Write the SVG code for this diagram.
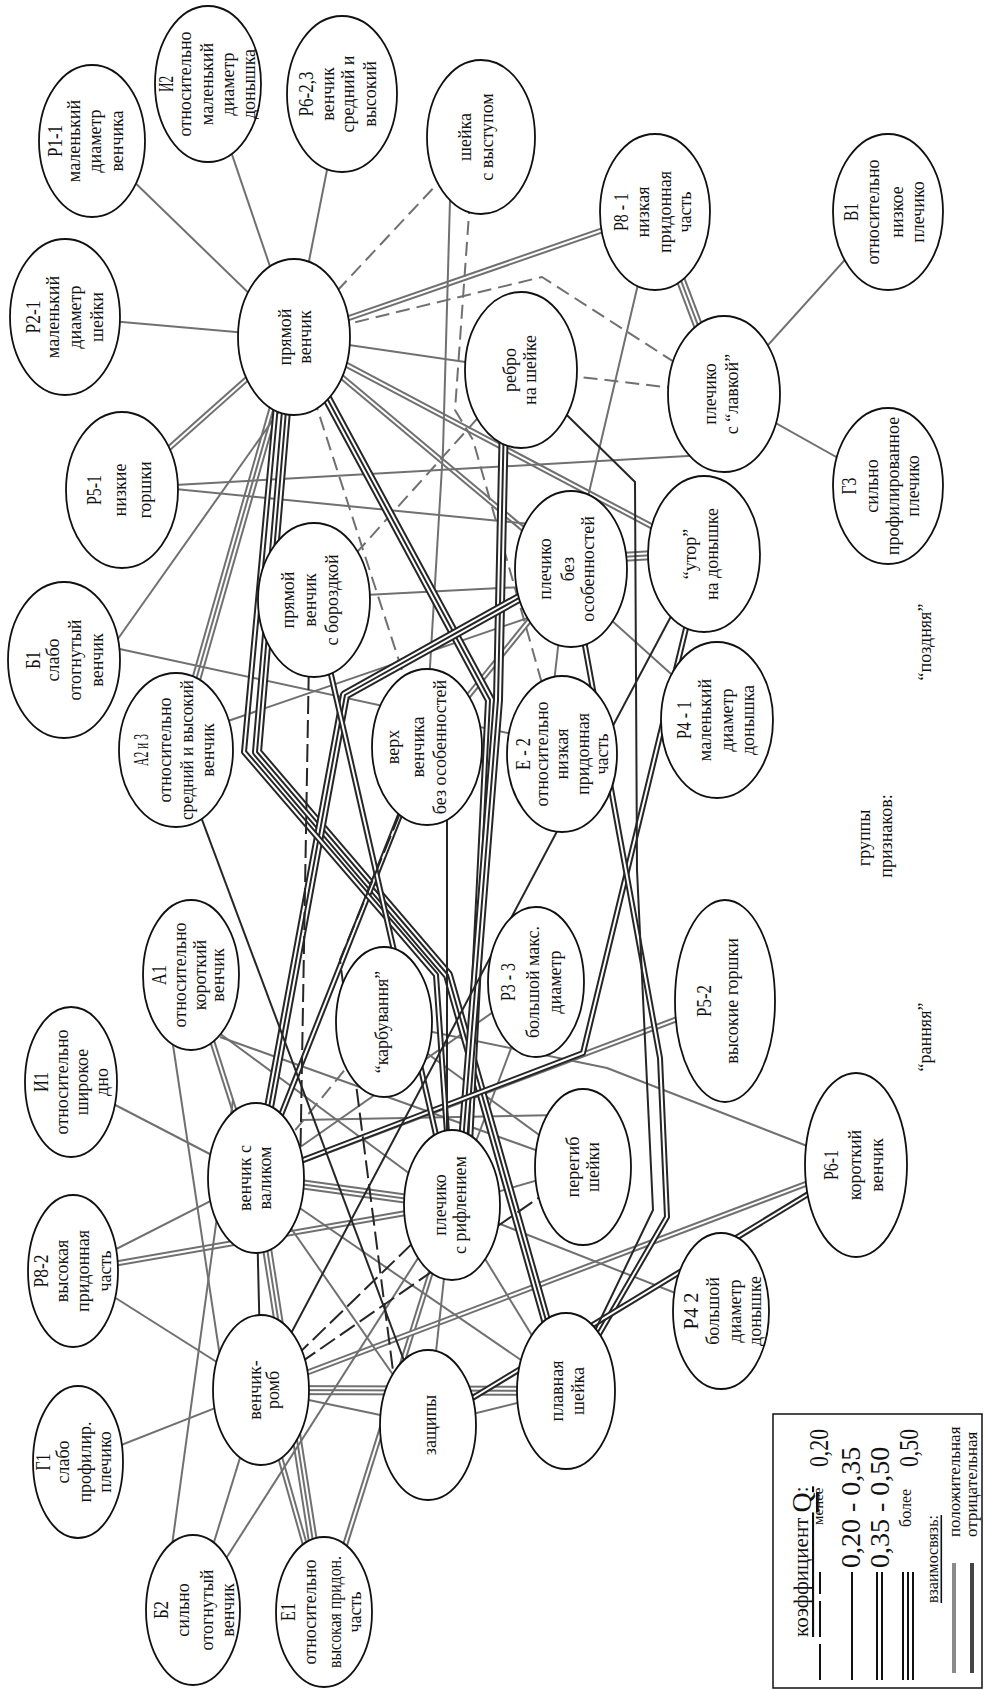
<svg xmlns="http://www.w3.org/2000/svg" xmlns:xlink="http://www.w3.org/1999/xlink" width="984" height="1690" viewBox="0 0 984 1690">
<style>
.g,.g2,.g3,.gd{fill:none;stroke:#707070;stroke-linejoin:round}
.d,.d2,.d3,.dd{fill:none;stroke:#262626;stroke-linejoin:round}
.g,.d,.gd,.dd{stroke-width:2}
.g2,.d2{stroke-width:6}
.g3,.d3{stroke-width:10}
.w2{fill:none;stroke:#fff;stroke-width:2;stroke-linejoin:round}
.w3{fill:none;stroke:#fff;stroke-width:6;stroke-linejoin:round}
.gd{stroke-dasharray:14 7}
.dd{stroke-dasharray:18 6}
.node ellipse{fill:#fff;stroke:#111;stroke-width:1.8}
.t{font-family:"Liberation Serif","Times New Roman",serif;font-size:18px;fill:#111;text-anchor:middle;dominant-baseline:central}
.h{font-size:22px}
.ls{font-family:"Liberation Serif","Times New Roman",serif;fill:#111;text-anchor:start;dominant-baseline:central}
</style>
<defs>
<path id="e1" d="M294,337 L92,141"/>
<path id="e2" d="M294,337 L208,84"/>
<path id="e3" d="M294,337 L342,94"/>
<path id="e4" d="M294,337 L65,317"/>
<path id="e5" d="M294,337 L521,370"/>
<path id="e6" d="M655,212 L571,569"/>
<path id="e7" d="M888,212 L724,394"/>
<path id="e8" d="M888,486 L724,394"/>
<path id="e9" d="M110,650 L280,410"/>
<path id="e10" d="M115,648 L540,740"/>
<path id="e11" d="M175,485 L705,455"/>
<path id="e12" d="M175,489 L560,527"/>
<path id="e13" d="M225,722 L545,612"/>
<path id="e14" d="M365,595 L560,585"/>
<path id="e15" d="M560,630 L552,700"/>
<path id="e16" d="M600,610 L700,700"/>
<path id="e17" d="M450,200 L443,450 L428,700"/>
<path id="e18" d="M71,1082 L256,1178"/>
<path id="e19" d="M173,1045 L225,1390"/>
<path id="e20" d="M233,1100 L170,1560"/>
<path id="e21" d="M220,1037 L583,1167"/>
<path id="e22" d="M215,1030 L452,1205"/>
<path id="e23" d="M384,1022 L583,1167"/>
<path id="e24" d="M536,982 L452,1205"/>
<path id="e25" d="M536,982 L256,1178"/>
<path id="e26" d="M856,1165 L607,1068 L384,1022"/>
<path id="e27" d="M721,1311 L452,1205"/>
<path id="e28" d="M583,1167 L452,1205"/>
<path id="e29" d="M300,1120 L560,1115"/>
<path id="e30" d="M73,1271 L256,1178"/>
<path id="e31" d="M73,1271 L261,1390"/>
<path id="e32" d="M78,1462 L261,1390"/>
<path id="e33" d="M261,1390 L193,1610"/>
<path id="e34" d="M261,1390 L428,1425"/>
<path id="e35" d="M428,1425 L566,1391"/>
<path id="e36" d="M428,1425 L452,1205"/>
<path id="e37" d="M256,1178 L428,1425"/>
<path id="e38" d="M193,1610 L452,1205"/>
<path id="e39" d="M256,1178 L566,1391"/>
<path id="e40" d="M566,1391 L452,1205"/>
<path id="f1" d="M294,337 L122,490"/>
<path id="f2" d="M294,337 L655,212"/>
<path id="f3" d="M294,337 L704,554"/>
<path id="f4" d="M294,337 L571,569"/>
<path id="f5" d="M427,747 L571,569"/>
<path id="f6" d="M191,975 L256,1178"/>
<path id="f7" d="M725,1001 L256,1178"/>
<path id="f8" d="M73,1271 L452,1205"/>
<path id="f9" d="M261,1390 L324,1612"/>
<path id="f10" d="M452,1205 L324,1612"/>
<path id="f11" d="M856,1165 L261,1390"/>
<path id="t1" d="M655,212 L724,394"/>
<path id="t2" d="M294,337 L176,750"/>
<path id="t3" d="M571,560 L704,552"/>
<path id="t4" d="M256,1178 L452,1205"/>
<path id="t5" d="M256,1178 L324,1612"/>
<path id="t6" d="M261,1390 L566,1391"/>
<path id="h1" d="M294,337 L481,137"/>
<path id="h2" d="M294,337 L542,277 L724,394"/>
<path id="h3" d="M521,370 L724,394"/>
<path id="h4" d="M294,337 L427,747"/>
<path id="h5" d="M314,600 L521,370"/>
<path id="h6" d="M470,200 L455,410 L473,440 L562,754"/>
<path id="h7" d="M384,1022 L256,1178"/>
<path id="k1" d="M521,370 L635,482 L637,870 L653,1210 L566,1391"/>
<path id="k2" d="M447,760 L447,1205"/>
<path id="k3" d="M256,1178 L261,1390"/>
<path id="k4" d="M261,1390 L704,554"/>
<path id="k5" d="M176,750 L428,1425"/>
<path id="m1" d="M704,554 L583,1053 L256,1178"/>
<path id="m2" d="M571,569 L660,1058 L667,1217 L566,1391"/>
<path id="m3" d="M256,1178 L427,747"/>
<path id="m4" d="M428,1425 L856,1165"/>
<path id="m5" d="M282,340 L244,752 L436,975 L452,1205"/>
<path id="m6" d="M314,600 L452,1205"/>
<path id="n1" d="M292,340 L257,752 L448,975 L566,1391"/>
<path id="n2" d="M294,337 L490,700 L465,1205"/>
<path id="n3" d="M505,370 L498,700 L458,1205"/>
<path id="n4" d="M571,569 L345,695 L256,1178"/>
<path id="q1" d="M310,600 L300,1178"/>
<path id="q2" d="M427,747 L340,960 L400,1425"/>
<path id="q3" d="M261,1390 L452,1205"/>
<path id="q4" d="M261,1390 L583,1167"/>
</defs>
<rect width="984" height="1690" fill="#fff"/>
<g id="connectors">
<use href="#t1" class="g3"/><use href="#t1" class="w3"/><use href="#t1" class="g"/>
<use href="#t2" class="g3"/><use href="#t2" class="w3"/><use href="#t2" class="g"/>
<use href="#t3" class="g3"/><use href="#t3" class="w3"/><use href="#t3" class="g"/>
<use href="#t4" class="g3"/><use href="#t4" class="w3"/><use href="#t4" class="g"/>
<use href="#t5" class="g3"/><use href="#t5" class="w3"/><use href="#t5" class="g"/>
<use href="#t6" class="g3"/><use href="#t6" class="w3"/><use href="#t6" class="g"/>
<use href="#f1" class="g2"/><use href="#f1" class="w2"/>
<use href="#f2" class="g2"/><use href="#f2" class="w2"/>
<use href="#f3" class="g2"/><use href="#f3" class="w2"/>
<use href="#f4" class="g2"/><use href="#f4" class="w2"/>
<use href="#f5" class="g2"/><use href="#f5" class="w2"/>
<use href="#f6" class="g2"/><use href="#f6" class="w2"/>
<use href="#f7" class="g2"/><use href="#f7" class="w2"/>
<use href="#f8" class="g2"/><use href="#f8" class="w2"/>
<use href="#f9" class="g2"/><use href="#f9" class="w2"/>
<use href="#f10" class="g2"/><use href="#f10" class="w2"/>
<use href="#f11" class="g2"/><use href="#f11" class="w2"/>
<use href="#e1" class="g"/><use href="#e2" class="g"/><use href="#e3" class="g"/><use href="#e4" class="g"/>
<use href="#e5" class="g"/><use href="#e6" class="g"/><use href="#e7" class="g"/><use href="#e8" class="g"/>
<use href="#e9" class="g"/><use href="#e10" class="g"/><use href="#e11" class="g"/><use href="#e12" class="g"/>
<use href="#e13" class="g"/><use href="#e14" class="g"/><use href="#e15" class="g"/><use href="#e16" class="g"/>
<use href="#e17" class="g"/><use href="#e18" class="g"/><use href="#e19" class="g"/><use href="#e20" class="g"/>
<use href="#e21" class="g"/><use href="#e22" class="g"/><use href="#e23" class="g"/><use href="#e24" class="g"/>
<use href="#e25" class="g"/><use href="#e26" class="g"/><use href="#e27" class="g"/><use href="#e28" class="g"/>
<use href="#e29" class="g"/><use href="#e30" class="g"/><use href="#e31" class="g"/><use href="#e32" class="g"/>
<use href="#e33" class="g"/><use href="#e34" class="g"/><use href="#e35" class="g"/><use href="#e36" class="g"/>
<use href="#e37" class="g"/><use href="#e38" class="g"/><use href="#e39" class="g"/><use href="#e40" class="g"/>
<use href="#h1" class="gd"/><use href="#h2" class="gd"/><use href="#h3" class="gd"/><use href="#h4" class="gd"/>
<use href="#h5" class="gd"/><use href="#h6" class="gd"/><use href="#h7" class="gd"/>
<use href="#n1" class="d3"/><use href="#n1" class="w3"/><use href="#n1" class="d"/>
<use href="#n2" class="d3"/><use href="#n2" class="w3"/><use href="#n2" class="d"/>
<use href="#n3" class="d3"/><use href="#n3" class="w3"/><use href="#n3" class="d"/>
<use href="#n4" class="d3"/><use href="#n4" class="w3"/><use href="#n4" class="d"/>
<use href="#m1" class="d2"/><use href="#m1" class="w2"/>
<use href="#m2" class="d2"/><use href="#m2" class="w2"/>
<use href="#m3" class="d2"/><use href="#m3" class="w2"/>
<use href="#m4" class="d2"/><use href="#m4" class="w2"/>
<use href="#m5" class="d2"/><use href="#m5" class="w2"/>
<use href="#m6" class="d2"/><use href="#m6" class="w2"/>
<use href="#k1" class="d"/><use href="#k2" class="d"/><use href="#k3" class="d"/><use href="#k4" class="d"/><use href="#k5" class="d"/>
<use href="#q1" class="dd"/><use href="#q2" class="dd"/><use href="#q3" class="dd"/><use href="#q4" class="dd"/>
</g>
<g id="nodes">
<g id="n-p11" class="node"><ellipse cx="92" cy="141" rx="53" ry="76"/><text class="t" transform="translate(92,141) rotate(-90)"><tspan class="h" x="0" y="-38" textLength="32" lengthAdjust="spacingAndGlyphs">Р1-1</tspan><tspan x="0" y="-18">маленький</tspan><tspan x="0" y="3">диаметр</tspan><tspan x="0" y="25">венчика</tspan></text></g>
<g id="n-i2" class="node"><ellipse cx="208" cy="84" rx="53" ry="78"/><text class="t" transform="translate(208,84) rotate(-90)"><tspan class="h" x="0" y="-43" textLength="16" lengthAdjust="spacingAndGlyphs">И2</tspan><tspan x="0" y="-23">относительно</tspan><tspan x="0" y="-1">маленький</tspan><tspan x="0" y="20">диаметр</tspan><tspan x="0" y="41">донышка</tspan></text></g>
<g id="n-p623" class="node"><ellipse cx="342" cy="94" rx="55" ry="78"/><text class="t" transform="translate(342,94) rotate(-90)"><tspan class="h" x="0" y="-37" textLength="45" lengthAdjust="spacingAndGlyphs">Р6-2,3</tspan><tspan x="0" y="-14">венчик</tspan><tspan x="0" y="6">средний и</tspan><tspan x="0" y="28">высокий</tspan></text></g>
<g id="n-shv" class="node"><ellipse cx="481" cy="137" rx="54" ry="77"/><text class="t" transform="translate(481,137) rotate(-90)"><tspan x="0" y="-16">шейка</tspan><tspan x="0" y="6">с выступом</tspan></text></g>
<g id="n-p21" class="node"><ellipse cx="65" cy="317" rx="55" ry="78"/><text class="t" transform="translate(65,317) rotate(-90)"><tspan class="h" x="0" y="-33" textLength="33" lengthAdjust="spacingAndGlyphs">Р2-1</tspan><tspan x="0" y="-12">маленький</tspan><tspan x="0" y="10">диаметр</tspan><tspan x="0" y="32">шейки</tspan></text></g>
<g id="n-pv" class="node"><ellipse cx="294" cy="337" rx="56" ry="78"/><text class="t" transform="translate(294,337) rotate(-90)"><tspan x="0" y="-9">прямой</tspan><tspan x="0" y="11">венчик</tspan></text></g>
<g id="n-p81" class="node"><ellipse cx="655" cy="212" rx="55" ry="78"/><text class="t" transform="translate(655,212) rotate(-90)"><tspan class="h" x="0" y="-35" textLength="38" lengthAdjust="spacingAndGlyphs">Р8 - 1</tspan><tspan x="0" y="-12">низкая</tspan><tspan x="0" y="10">придонная</tspan><tspan x="0" y="30">часть</tspan></text></g>
<g id="n-v1" class="node"><ellipse cx="888" cy="212" rx="55" ry="78"/><text class="t" transform="translate(888,212) rotate(-90)"><tspan class="h" x="0" y="-38" textLength="18" lengthAdjust="spacingAndGlyphs">В1</tspan><tspan x="0" y="-15">относительно</tspan><tspan x="0" y="9">низкое</tspan><tspan x="0" y="30">плечико</tspan></text></g>
<g id="n-rebro" class="node"><ellipse cx="521" cy="370" rx="56" ry="78"/><text class="t" transform="translate(521,370) rotate(-90)"><tspan x="0" y="-11">ребро</tspan><tspan x="0" y="9">на шейке</tspan></text></g>
<g id="n-lavka" class="node"><ellipse cx="724" cy="394" rx="56" ry="78"/><text class="t" transform="translate(724,394) rotate(-90)"><tspan x="0" y="-14">плечико</tspan><tspan x="0" y="8">с “лавкой”</tspan></text></g>
<g id="n-g3" class="node"><ellipse cx="888" cy="486" rx="55" ry="78"/><text class="t" transform="translate(888,486) rotate(-90)"><tspan class="h" x="0" y="-40" textLength="17" lengthAdjust="spacingAndGlyphs">Г3</tspan><tspan x="0" y="-16">сильно</tspan><tspan x="0" y="5">профилированное</tspan><tspan x="0" y="25">плечико</tspan></text></g>
<g id="n-p51" class="node"><ellipse cx="122" cy="490" rx="56" ry="78"/><text class="t" transform="translate(122,490) rotate(-90)"><tspan class="h" x="0" y="-29" textLength="30" lengthAdjust="spacingAndGlyphs">Р5-1</tspan><tspan x="0" y="-2">низкие</tspan><tspan x="0" y="23">горшки</tspan></text></g>
<g id="n-b1" class="node"><ellipse cx="64" cy="660" rx="56" ry="78"/><text class="t" transform="translate(64,660) rotate(-90)"><tspan class="h" x="0" y="-32" textLength="18" lengthAdjust="spacingAndGlyphs">Б1</tspan><tspan x="0" y="-11">слабо</tspan><tspan x="0" y="11">отогнутый</tspan><tspan x="0" y="33">венчик</tspan></text></g>
<g id="n-pvb" class="node"><ellipse cx="314" cy="600" rx="56" ry="77"/><text class="t" transform="translate(314,600) rotate(-90)"><tspan x="0" y="-26">прямой</tspan><tspan x="0" y="-4">венчик</tspan><tspan x="0" y="18">с бороздкой</tspan></text></g>
<g id="n-a23" class="node"><ellipse cx="176" cy="750" rx="57" ry="77"/><text class="t" transform="translate(176,750) rotate(-90)"><tspan class="h" x="0" y="-36" textLength="32" lengthAdjust="spacingAndGlyphs">А2 и 3</tspan><tspan x="0" y="-11">относительно</tspan><tspan x="0" y="11" textLength="140" lengthAdjust="spacingAndGlyphs">средний и высокий</tspan><tspan x="0" y="32">венчик</tspan></text></g>
<g id="n-verh" class="node"><ellipse cx="427" cy="747" rx="55" ry="78"/><text class="t" transform="translate(427,747) rotate(-90)"><tspan x="0" y="-34">верх</tspan><tspan x="0" y="-9">венчика</tspan><tspan x="0" y="13">без особенностей</tspan></text></g>
<g id="n-plo" class="node"><ellipse cx="571" cy="569" rx="56" ry="78"/><text class="t" transform="translate(571,569) rotate(-90)"><tspan x="0" y="-26">плечико</tspan><tspan x="0" y="-3">без</tspan><tspan x="0" y="17">особенностей</tspan></text></g>
<g id="n-utor" class="node"><ellipse cx="704" cy="554" rx="56" ry="78"/><text class="t" transform="translate(704,554) rotate(-90)"><tspan x="0" y="-14">“утор”</tspan><tspan x="0" y="8">на донышке</tspan></text></g>
<g id="n-e2" class="node"><ellipse cx="562" cy="754" rx="55" ry="78"/><text class="t" transform="translate(562,754) rotate(-90)"><tspan class="h" x="0" y="-40" textLength="32" lengthAdjust="spacingAndGlyphs">Е - 2</tspan><tspan x="0" y="-20">относительно</tspan><tspan x="0" y="0">низкая</tspan><tspan x="0" y="21">придонная</tspan><tspan x="0" y="40">часть</tspan></text></g>
<g id="n-p41" class="node"><ellipse cx="717" cy="720" rx="56" ry="78"/><text class="t" transform="translate(717,720) rotate(-90)"><tspan class="h" x="0" y="-34" textLength="38" lengthAdjust="spacingAndGlyphs">Р4 - 1</tspan><tspan x="0" y="-12">маленький</tspan><tspan x="0" y="10">диаметр</tspan><tspan x="0" y="31">донышка</tspan></text></g>
<g id="n-i1" class="node"><ellipse cx="71" cy="1082" rx="46" ry="75"/><text class="t" transform="translate(71,1082) rotate(-90)"><tspan class="h" x="0" y="-31" textLength="20" lengthAdjust="spacingAndGlyphs">И1</tspan><tspan x="0" y="-9">относительно</tspan><tspan x="0" y="11">широкое</tspan><tspan x="0" y="31">дно</tspan></text></g>
<g id="n-a1" class="node"><ellipse cx="191" cy="975" rx="48" ry="75"/><text class="t" transform="translate(191,975) rotate(-90)"><tspan class="h" x="0" y="-33" textLength="20" lengthAdjust="spacingAndGlyphs">А1</tspan><tspan x="0" y="-11">относительно</tspan><tspan x="0" y="9">короткий</tspan><tspan x="0" y="27">венчик</tspan></text></g>
<g id="n-karb" class="node"><ellipse cx="384" cy="1022" rx="48" ry="75"/><text class="t" transform="translate(384,1022) rotate(-90)"><tspan x="0" y="-2">“карбування”</tspan></text></g>
<g id="n-val" class="node"><ellipse cx="256" cy="1178" rx="48" ry="75"/><text class="t" transform="translate(256,1178) rotate(-90)"><tspan x="0" y="-11">венчик с</tspan><tspan x="0" y="9">валиком</tspan></text></g>
<g id="n-rif" class="node"><ellipse cx="452" cy="1205" rx="48" ry="75"/><text class="t" transform="translate(452,1205) rotate(-90)"><tspan x="0" y="-12">плечико</tspan><tspan x="0" y="8">с рифлением</tspan></text></g>
<g id="n-p33" class="node"><ellipse cx="536" cy="982" rx="48" ry="75"/><text class="t" transform="translate(536,982) rotate(-90)"><tspan class="h" x="0" y="-29" textLength="38" lengthAdjust="spacingAndGlyphs">Р3 - 3</tspan><tspan x="0" y="-3">большой макс.</tspan><tspan x="0" y="19">диаметр</tspan></text></g>
<g id="n-p52" class="node"><ellipse cx="725" cy="1001" rx="50" ry="101"/><text class="t" transform="translate(725,1001) rotate(-90)"><tspan class="h" x="0" y="-22" textLength="32" lengthAdjust="spacingAndGlyphs">Р5-2</tspan><tspan x="0" y="7">высокие горшки</tspan></text></g>
<g id="n-pereg" class="node"><ellipse cx="583" cy="1167" rx="48" ry="78"/><text class="t" transform="translate(583,1167) rotate(-90)"><tspan x="0" y="-10">перегиб</tspan><tspan x="0" y="10">шейки</tspan></text></g>
<g id="n-p61" class="node"><ellipse cx="856" cy="1165" rx="51" ry="92"/><text class="t" transform="translate(856,1165) rotate(-90)"><tspan class="h" x="0" y="-26" textLength="30" lengthAdjust="spacingAndGlyphs">Р6-1</tspan><tspan x="0" y="-1">короткий</tspan><tspan x="0" y="21">венчик</tspan></text></g>
<g id="n-p42" class="node"><ellipse cx="721" cy="1311" rx="48" ry="78"/><text class="t" transform="translate(721,1311) rotate(-90)"><tspan class="h" x="0" y="-31" textLength="37" lengthAdjust="spacingAndGlyphs">Р4 2</tspan><tspan x="0" y="-8">большой</tspan><tspan x="0" y="14">диаметр</tspan><tspan x="0" y="34">донышке</tspan></text></g>
<g id="n-p82" class="node"><ellipse cx="73" cy="1271" rx="45" ry="76"/><text class="t" transform="translate(73,1271) rotate(-90)"><tspan class="h" x="0" y="-33" textLength="33" lengthAdjust="spacingAndGlyphs">Р8-2</tspan><tspan x="0" y="-11">высокая</tspan><tspan x="0" y="10">придонная</tspan><tspan x="0" y="32">часть</tspan></text></g>
<g id="n-romb" class="node"><ellipse cx="261" cy="1390" rx="48" ry="75"/><text class="t" transform="translate(261,1390) rotate(-90)"><tspan x="0" y="-6">венчик-</tspan><tspan x="0" y="12">ромб</tspan></text></g>
<g id="n-g1" class="node"><ellipse cx="78" cy="1462" rx="45" ry="76"/><text class="t" transform="translate(78,1462) rotate(-90)"><tspan class="h" x="0" y="-36" textLength="17" lengthAdjust="spacingAndGlyphs">Г1</tspan><tspan x="0" y="-15">слабо</tspan><tspan x="0" y="7">профилир.</tspan><tspan x="0" y="27">плечико</tspan></text></g>
<g id="n-zash" class="node"><ellipse cx="428" cy="1425" rx="48" ry="75"/><text class="t" transform="translate(428,1425) rotate(-90)"><tspan x="0" y="2">защипы</tspan></text></g>
<g id="n-plav" class="node"><ellipse cx="566" cy="1391" rx="49" ry="78"/><text class="t" transform="translate(566,1391) rotate(-90)"><tspan x="0" y="-9">плавная</tspan><tspan x="0" y="12">шейка</tspan></text></g>
<g id="n-b2" class="node"><ellipse cx="193" cy="1610" rx="47" ry="75"/><text class="t" transform="translate(193,1610) rotate(-90)"><tspan class="h" x="0" y="-33" textLength="18" lengthAdjust="spacingAndGlyphs">Б2</tspan><tspan x="0" y="-10">сильно</tspan><tspan x="0" y="14">отогнутый</tspan><tspan x="0" y="35">венчик</tspan></text></g>
<g id="n-e1" class="node"><ellipse cx="324" cy="1612" rx="48" ry="75"/><text class="t" transform="translate(324,1612) rotate(-90)"><tspan class="h" x="0" y="-37" textLength="18" lengthAdjust="spacingAndGlyphs">Е1</tspan><tspan x="0" y="-14">относительно</tspan><tspan x="0" y="11" textLength="112" lengthAdjust="spacingAndGlyphs">высокая придон.</tspan><tspan x="0" y="31">часть</tspan></text></g>
</g>
<g id="labels">
<text class="t" transform="translate(925,642) rotate(-90)">“поздняя”</text>
<text class="t" transform="translate(864,838) rotate(-90)">группы</text>
<text class="t" transform="translate(886,836) rotate(-90)">признаков:</text>
<text class="t" transform="translate(925,1037) rotate(-90)">“ранняя”</text>
</g>
<g id="legend">
<rect x="773" y="1414" width="209" height="274" fill="none" stroke="#111" stroke-width="1.5"/>
<text class="ls" transform="translate(801,1637) rotate(-90)" font-size="21" text-decoration="underline">коэффициент <tspan font-size="28">Q</tspan>:</text>
<line x1="820" y1="1680" x2="820" y2="1572" stroke="#111" stroke-width="2" stroke-dasharray="36 7"/>
<text class="ls" transform="translate(818,1525) rotate(-90)" font-size="15">менее</text>
<text class="ls" transform="translate(818,1467) rotate(-90)" font-size="28" textLength="38" lengthAdjust="spacingAndGlyphs">0,20</text>
<line x1="852" y1="1680" x2="852" y2="1572" stroke="#111" stroke-width="2"/>
<text class="ls" transform="translate(850,1568) rotate(-90)" font-size="28">0,20 - 0,35</text>
<line x1="877" y1="1680" x2="877" y2="1572" stroke="#111" stroke-width="2"/>
<line x1="882" y1="1680" x2="882" y2="1572" stroke="#111" stroke-width="2"/>
<text class="ls" transform="translate(879,1568) rotate(-90)" font-size="28">0,35 - 0,50</text>
<line x1="903" y1="1680" x2="903" y2="1572" stroke="#111" stroke-width="2"/>
<line x1="908" y1="1680" x2="908" y2="1572" stroke="#111" stroke-width="2"/>
<line x1="913" y1="1680" x2="913" y2="1572" stroke="#111" stroke-width="2"/>
<text class="ls" transform="translate(905,1527) rotate(-90)" font-size="16">более</text>
<text class="ls" transform="translate(908,1467) rotate(-90)" font-size="28" textLength="38" lengthAdjust="spacingAndGlyphs">0,50</text>
<text class="ls" transform="translate(932,1603) rotate(-90)" font-size="16" text-decoration="underline">взаимосвязь:</text>
<line x1="954" y1="1673" x2="954" y2="1563" stroke="#8a8a8a" stroke-width="4"/>
<text class="ls" transform="translate(954,1537) rotate(-90)" font-size="17">положительная</text>
<line x1="972" y1="1673" x2="972" y2="1563" stroke="#444" stroke-width="4"/>
<text class="ls" transform="translate(971,1537) rotate(-90)" font-size="17">отрицательная</text>
</g>
</svg>
